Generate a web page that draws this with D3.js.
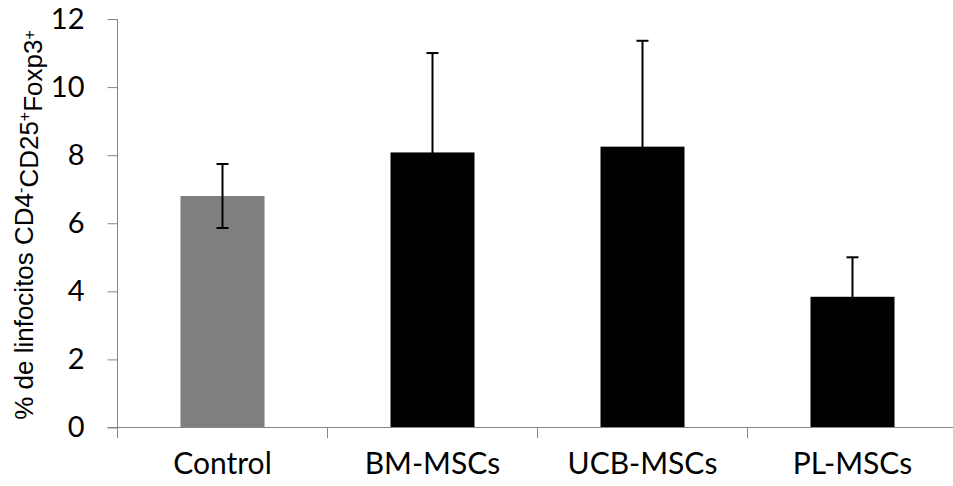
<!DOCTYPE html>
<html>
<head>
<meta charset="utf-8">
<script src="https://cdn.jsdelivr.net/npm/d3@7"></script>
<style>
  html, body { margin: 0; padding: 0; background: #fff; }
  svg { display: block; }
  .tick text { fill: #000; }
</style>
</head>
<body>
<div id="chart"></div>
<script>
// data
const categories = ["Control", "BM-MSCs", "UCB-MSCs", "PL-MSCs"];
const means = [6.80, 8.08, 8.25, 3.84];
const errors = [0.94, 2.92, 3.11, 1.16];
const barColors = ["#7f7f7f", "#000000", "#000000", "#000000"];
const yTicks = [0, 2, 4, 6, 8, 10, 12];

const width = 953;
const height = 486;

const svg = d3.select("#chart").append("svg")
    .attr("width", width)
    .attr("height", height);

const x = d3.scaleBand()
    .domain(categories)
    .range([117.5, 957.5])
    .paddingInner(0.6)
    .paddingOuter(0.3);

const y = d3.scaleLinear()
    .domain([0, 12])
    .range([427.5, 19]);

const axisColor = "#868686";
const labelFont = "Lato, 'Open Sans', sans-serif";

// bars
svg.selectAll(".bar")
    .data(categories)
    .enter().append("rect")
    .attr("class", "bar")
    .attr("x", d => x(d))
    .attr("width", x.bandwidth())
    .attr("y", (d, i) => y(means[i]))
    .attr("height", (d, i) => y(0) - y(means[i]))
    .attr("fill", (d, i) => barColors[i]);

// error bars
const cap = 6;
const err = svg.selectAll(".err")
    .data(categories)
    .enter().append("g")
    .attr("class", "err")
    .attr("stroke", "#000")
    .attr("stroke-width", 2);

err.append("line")
    .attr("x1", d => x(d) + x.bandwidth() / 2)
    .attr("x2", d => x(d) + x.bandwidth() / 2)
    .attr("y1", (d, i) => y(means[i] - errors[i]))
    .attr("y2", (d, i) => y(means[i] + errors[i]));

err.append("line")
    .attr("x1", d => x(d) + x.bandwidth() / 2 - cap)
    .attr("x2", d => x(d) + x.bandwidth() / 2 + cap)
    .attr("y1", (d, i) => y(means[i] + errors[i]))
    .attr("y2", (d, i) => y(means[i] + errors[i]));

err.append("line")
    .attr("x1", d => x(d) + x.bandwidth() / 2 - cap)
    .attr("x2", d => x(d) + x.bandwidth() / 2 + cap)
    .attr("y1", (d, i) => y(means[i] - errors[i]))
    .attr("y2", (d, i) => y(means[i] - errors[i]));

// y axis
const yAxis = svg.append("g")
    .attr("transform", `translate(${x.range()[0]},0)`)
    .call(d3.axisLeft(y).tickValues(yTicks).tickSize(10).tickPadding(23).tickSizeOuter(0));

yAxis.select(".domain").attr("stroke", axisColor)
    .attr("d", `M0,${y(12)}V${y(0) + 10.5}`);
yAxis.selectAll(".tick line").attr("stroke", axisColor);
yAxis.selectAll(".tick text")
    .style("font-family", labelFont)
    .style("font-size", "29px");

// x axis: labels centred in bands, ticks on band boundaries
const xAxis = svg.append("g")
    .attr("transform", `translate(0,${y(0)})`)
    .call(d3.axisBottom(x).tickSize(0).tickPadding(25));

xAxis.select(".domain").attr("stroke", axisColor)
    .attr("d", `M${x.range()[0] - 10},0H${width}`);
xAxis.selectAll(".tick text")
    .style("font-family", labelFont)
    .style("font-size", "30px");

const gap = (x.step() - x.bandwidth()) / 2;
const bounds = categories.map(c => x(c) - gap).concat([x(categories[categories.length - 1]) + x.bandwidth() + gap]);
xAxis.selectAll(".bound")
    .data(bounds)
    .enter().append("line")
    .attr("class", "bound")
    .attr("x1", d => d)
    .attr("x2", d => d)
    .attr("y1", 0)
    .attr("y2", 10.5)
    .attr("stroke", axisColor);

// y axis title with superscripts
const title = svg.append("text")
    .attr("transform", "translate(33,225) rotate(-90)")
    .attr("text-anchor", "middle")
    .style("font-family", "'Liberation Sans', Arial, sans-serif")
    .style("font-size", "26px")
    .attr("fill", "#000");

title.append("tspan").text("% de linfocitos CD4");
title.append("tspan").attr("dy", "-0.45em").style("font-size", "16px").text("-");
title.append("tspan").attr("dy", "0.45em").text("CD25");
title.append("tspan").attr("dy", "-0.45em").style("font-size", "16px").text("+");
title.append("tspan").attr("dy", "0.45em").text("Foxp3");
title.append("tspan").attr("dy", "-0.45em").style("font-size", "16px").text("+");
</script>
</body>
</html>
